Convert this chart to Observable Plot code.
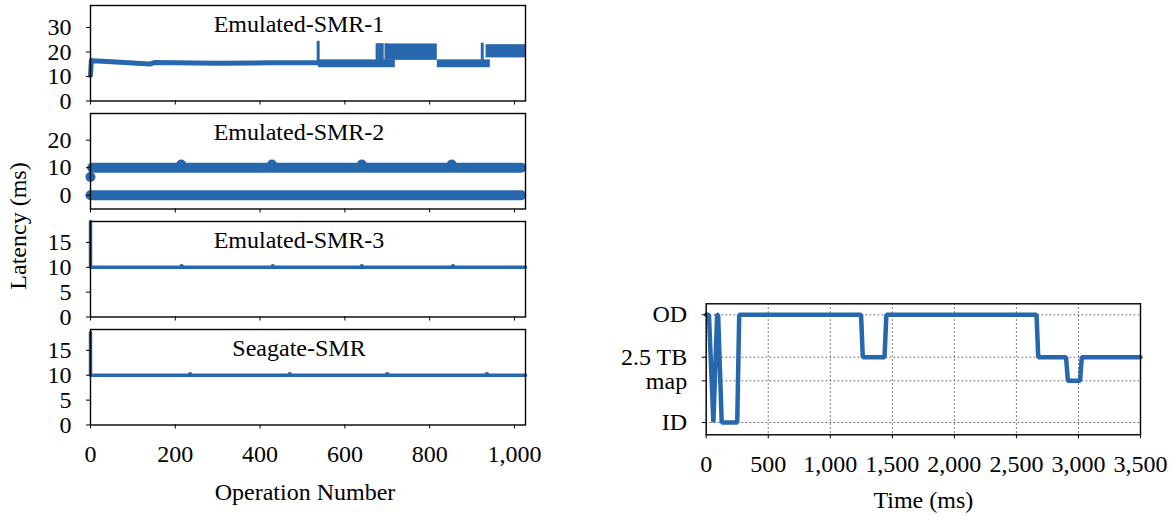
<!DOCTYPE html>
<html><head><meta charset="utf-8">
<script src="https://cdn.jsdelivr.net/npm/d3@7"></script>
<script src="https://cdn.jsdelivr.net/npm/@observablehq/plot@0.6"></script>
<style>
body{margin:0;background:#fff;}
#wrap{position:relative;width:1174px;height:516px;overflow:hidden;font-family:"Liberation Serif",serif;background:#fff;}
#wrap svg{position:absolute;overflow:visible;}
#ylab{position:absolute;left:17.5px;top:226px;transform:translate(-50%,-50%) rotate(-90deg);font-size:24px;white-space:nowrap;color:#000;}
</style></head><body><div id="wrap"><div id="ylab">Latency (ms)</div></div>
<script>
const BLUE = "#2767ad";
const opTicks = [0, 200, 400, 600, 800, 1000];

// ---- Emulated-SMR-1 ----
const emu1Ops = [0, 2, 6, 60, 140, 150, 300, 420, 536, 540];
const emu1Lat = [10.5, 16.6, 16.4, 15.9, 15.1, 15.7, 15.4, 15.6, 15.6, 15.4];
const emu1BandStart = [538, 700, 818, 933];
const emu1BandEnd = [719, 818, 943, 1026];
const emu1BandLow = [13.6, 16.6, 13.6, 17.6];
const emu1BandHigh = [16.8, 23.3, 16.8, 23.0];
const emu1SpikeOps = [537, 676, 682, 688, 697, 924];
const emu1SpikeTop = [24.4, 23.4, 23.4, 23.4, 23.4, 23.6];
const emu1SpikeBase = [15.6, 15.5, 15.5, 15.5, 15.5, 15.5];

// ---- Emulated-SMR-2 ----
const emu2RowLat = [10, 0];
const emu2RowStart = [4, 0];
const emu2RowEnd = [1016, 1016];
const emu2DotOps = [0, 214, 428, 640, 852];
const emu2DotLat = [6.6, 11.2, 11.2, 11.2, 11.2];

// ---- Emulated-SMR-3 ----
const emu3Ops = [0, 0, 3, 1026];
const emu3Lat = [19.2, 10, 10, 10];
const emu3BumpOps = [215, 430, 640, 855];

// ---- Seagate-SMR ----
const seaOps = [0, 0, 3, 1026];
const seaLat = [18.6, 10, 10, 10];
const seaBumpOps = [235, 470, 700, 935];

// ---- Right: head position over time ----
const posLevels = ["ID", "map", "2.5 TB", "OD"];
const posValues = [0, 0.387, 0.606, 1];
const traceTime = [0, 22, 58, 88, 96, 125, 250, 266, 1248, 1262, 1437, 1452, 2662, 2676, 2900, 2915, 3013, 3027, 3500];
const traceLevel = ["OD","OD","ID","OD","OD","ID","ID","OD","OD","2.5 TB","2.5 TB","OD","OD","2.5 TB","2.5 TB","map","map","2.5 TB","2.5 TB"];
const timeTicks = [0, 500, 1000, 1500, 2000, 2500, 3000, 3500];

const wrap = document.getElementById("wrap");
const baseStyle = {fontFamily: "'Liberation Serif', serif", fontSize: "24px", color: "#000", background: "transparent", overflow: "visible"};
const zip = (...cols) => cols[0].map((_, i) => cols.map(c => c[i]));

function place(svg, left, top) {
  svg.style.left = left + "px";
  svg.style.top = top + "px";
  wrap.appendChild(svg);
}

function panel({top, domain, yTicks, title, marks, bottom}) {
  const mt = 5, ph = 95.5, mb = bottom ? 92 : 7.5;
  const p = Plot.plot({
    width: 560, height: mt + ph + mb,
    marginLeft: 90, marginRight: 35, marginTop: mt, marginBottom: mb,
    style: baseStyle,
    x: {domain: [0, 1026], label: null},
    y: {domain, label: null},
    marks: [
      ...marks,
      Plot.axisY({ticks: yTicks, tickSize: 4, tickPadding: 15, label: null}),
      Plot.axisX({ticks: opTicks, tickSize: 4, tickPadding: 16, label: null,
                  tickFormat: bottom ? d3.format(",") : () => ""}),
      Plot.frame({stroke: "#000", strokeWidth: 1.4}),
      Plot.text([title], {frameAnchor: "top", dy: 19, dx: -9, lineAnchor: "middle", fontSize: 24}),
      ...(bottom ? [Plot.text(["Operation Number"], {frameAnchor: "bottom", dy: 67, dx: -3, lineAnchor: "middle", fontSize: 24})] : [])
    ]
  });
  place(p, 0, top - mt);
}

// Panel 1
const emu1Line = zip(emu1Ops, emu1Lat).map(([op, lat]) => ({op, lat}));
const emu1Bands = zip(emu1BandStart, emu1BandEnd, emu1BandLow, emu1BandHigh).map(([a, b, lo, hi]) => ({a, b, lo, hi}));
const emu1Spikes = zip(emu1SpikeOps, emu1SpikeBase, emu1SpikeTop).map(([op, lo, hi]) => ({op, lo, hi}));
panel({top: 5, domain: [0, 39], yTicks: [0, 10, 20, 30], title: "Emulated-SMR-1", marks: [
  Plot.rect(emu1Bands, {x1: "a", x2: "b", y1: "lo", y2: "hi", fill: BLUE}),
  Plot.ruleX(emu1Spikes, {x: "op", y1: "lo", y2: "hi", stroke: BLUE, strokeWidth: 3}),
  Plot.line(emu1Line, {x: "op", y: "lat", stroke: BLUE, strokeWidth: 5})
]});

// Panel 2
const emu2Rows = zip(emu2RowLat, emu2RowStart, emu2RowEnd).flatMap(([lat, s, e], i) => [{op: s, lat, row: i}, {op: e, lat, row: i}]);
const emu2Dots = zip(emu2DotOps, emu2DotLat).map(([op, lat]) => ({op, lat}));
panel({top: 113, domain: [-5, 29.7], yTicks: [0, 10, 20], title: "Emulated-SMR-2", marks: [
  Plot.line(emu2Rows, {x: "op", y: "lat", z: "row", stroke: BLUE, strokeWidth: 10, strokeLinecap: "round"}),
  Plot.dot(emu2Dots, {x: "op", y: "lat", r: 5, fill: BLUE})
]});

// Panel 3
const emu3Line = zip(emu3Ops, emu3Lat).map(([op, lat]) => ({op, lat}));
panel({top: 221, domain: [0, 19.2], yTicks: [0, 5, 10, 15], title: "Emulated-SMR-3", marks: [
  Plot.line(emu3Line, {x: "op", y: "lat", stroke: BLUE, strokeWidth: 3.5}),
  Plot.dot(emu3BumpOps, {x: d => d, y: () => 10.2, r: 2.2, fill: BLUE})
]});

// Panel 4
const seaLine = zip(seaOps, seaLat).map(([op, lat]) => ({op, lat}));
panel({top: 329, domain: [0, 19.2], yTicks: [0, 5, 10, 15], title: "Seagate-SMR", bottom: true, marks: [
  Plot.line(seaLine, {x: "op", y: "lat", stroke: BLUE, strokeWidth: 3.5}),
  Plot.dot(seaBumpOps, {x: d => d, y: () => 10.2, r: 2.2, fill: BLUE})
]});

// Right panel
const levelPos = new Map(zip(posLevels, posValues));
const trace = zip(traceTime, traceLevel).map(([t, lv]) => ({t, pos: levelPos.get(lv)}));
const right = Plot.plot({
  width: 574, height: 226,
  marginLeft: 105.7, marginRight: 34, marginTop: 13.3, marginBottom: 81.7,
  style: baseStyle,
  x: {domain: [0, 3500], label: null},
  y: {domain: [-0.114, 1.102], label: null},
  marks: [
    Plot.gridX({ticks: timeTicks, stroke: "#444", strokeOpacity: 0.9, strokeDasharray: "1.5,2.5", strokeWidth: 1}),
    Plot.gridY({ticks: posValues, stroke: "#444", strokeOpacity: 0.9, strokeDasharray: "1.5,2.5", strokeWidth: 1}),
    Plot.line(trace, {x: "t", y: "pos", stroke: BLUE, strokeWidth: 4.5, strokeLinejoin: "miter"}),
    Plot.axisY({ticks: posValues, tickFormat: v => posLevels[posValues.indexOf(v)], tickSize: 4, tickPadding: 15, label: null}),
    Plot.axisX({ticks: timeTicks, tickFormat: d3.format(","), tickSize: 4, tickPadding: 16, label: null}),
    Plot.frame({stroke: "#000", strokeWidth: 1.4}),
    Plot.text(["Time (ms)"], {frameAnchor: "bottom", dy: 66, lineAnchor: "middle", fontSize: 24})
  ]
});
place(right, 600, 290);
</script></body></html>
